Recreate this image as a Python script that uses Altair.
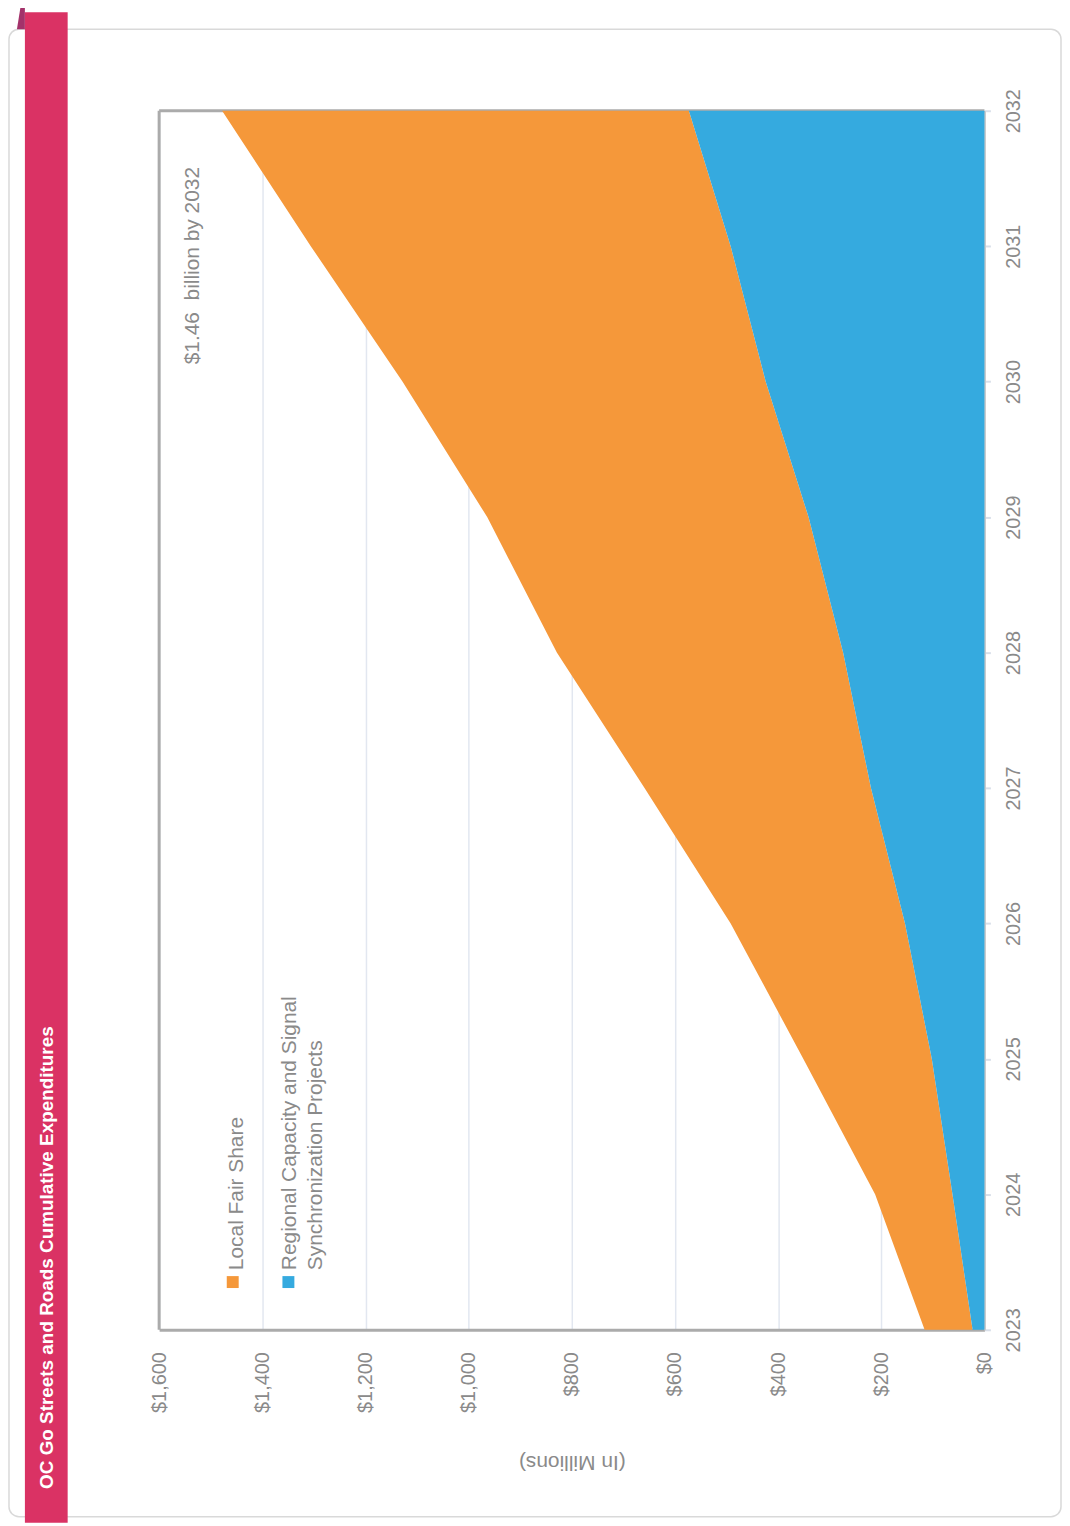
import altair as alt
import pandas as pd

# ---------------- data ----------------
years = [2023, 2024, 2025, 2026, 2027, 2028, 2029, 2030, 2031, 2032]
regional_capacity = [23, 62, 102, 154, 220, 274, 341, 424, 492, 573]
local_fair_share = [93, 150, 249, 338, 439, 555, 623, 704, 814, 905]

series_names = ["Local Fair Share", "Regional Capacity and Signal Synchronization Projects"]
series_colors = ["#F5983A", "#35AADF"]
stack_rank = [1, 0]  # Regional sits next to $0

value_ticks = [0, 200, 400, 600, 800, 1000, 1200, 1400, 1600]

chart_title = "OC Go Streets and Roads Cumulative Expenditures"
value_axis_title = "(In Millions)"
annotation_text = "$1.46\u00a0 billion by 2032"
legend_labels = ["Local Fair Share", "Regional Capacity and Signal\nSynchronization Projects"]

FONT = "Liberation Sans"
GRAY_TEXT = "#8a8a8a"

W, H = 830, 1226

rows = []
for name, rank, vals in zip(series_names, stack_rank, [local_fair_share, regional_capacity]):
    for yr, v in zip(years, vals):
        rows.append({"year": yr, "value": v, "series": name, "rank": rank})
df = pd.DataFrame(rows)

one = pd.DataFrame({"k": [0]})

# ---------------- decorations ----------------
card = alt.Chart(one).mark_rect(fill=None, stroke="#d9d9d9", strokeWidth=1.5, cornerRadius=10).encode(
    x=alt.value(-151), x2=alt.value(907), y=alt.value(-82), y2=alt.value(1414)
)
banner = alt.Chart(one).mark_rect(color="#DA3264").encode(
    x=alt.value(-135), x2=alt.value(-92), y=alt.value(-99), y2=alt.value(1420)
)
fold = alt.Chart(one).mark_point(
    shape="M -0.32 1 L 0.32 1 L 0.32 -1 L 0 -1 Z", filled=True, opacity=1, color="#A3326A", size=625
).encode(x=alt.value(-139), y=alt.value(-94.5))

title_df = pd.DataFrame({"t": [chart_title]})
title = alt.Chart(title_df).mark_text(
    angle=270, align="left", baseline="top", font=FONT, fontSize=19, fontWeight="bold", color="white"
).encode(x=alt.value(-121.5), y=alt.value(1386), text="t:N")

left_border = alt.Chart(one).mark_rule(color="#ababab", strokeWidth=3).encode(
    x=alt.value(0), y=alt.value(0), y2=alt.value(H)
)
top_border = alt.Chart(one).mark_rule(color="#ababab", strokeWidth=3).encode(
    x=alt.value(0), x2=alt.value(W), y=alt.value(0)
)

# ---------------- stacked areas ----------------
area = alt.Chart(df).mark_area(orient="horizontal", opacity=1).encode(
    y=alt.Y(
        "year:Q",
        scale=alt.Scale(domain=[years[0], years[-1]], nice=False, zero=False),
        axis=alt.Axis(
            orient="right", values=years, format="d", labelAngle=270, labelAlign="center",
            labelBaseline="top", labelPadding=13, tickSize=6, tickWidth=2, tickColor="#d9dfe9",
            domainColor="#c9c9c9", domainWidth=2, grid=False, labelFont=FONT, labelFontSize=20,
            labelColor=GRAY_TEXT, labelFlush=False, labelOverlap=False, title=None,
        ),
    ),
    x=alt.X(
        "value:Q",
        stack="zero",
        scale=alt.Scale(domain=[value_ticks[0], value_ticks[-1]], reverse=True, nice=False),
        axis=alt.Axis(
            orient="bottom", values=value_ticks, labelExpr="'$' + format(datum.value, ',')",
            labelAngle=270, labelAlign="right", labelBaseline="middle", labelPadding=22,
            ticks=False, tickSize=0, domainColor="#ababab", domainWidth=3,
            grid=True, gridColor="#e2e7f0", gridWidth=1.5,
            labelFont=FONT, labelFontSize=20, labelColor=GRAY_TEXT, labelFlush=False, labelOverlap=False,
            title=value_axis_title, titleAngle=180, titleAlign="center", titleBaseline="middle",
            titleX=W / 2, titleY=132, titleFont=FONT, titleFontSize=21, titleFontWeight="normal",
            titleColor=GRAY_TEXT,
        ),
    ),
    color=alt.Color("series:N", scale=alt.Scale(domain=series_names, range=series_colors), legend=None),
    order=alt.Order("rank:Q"),
)

# ---------------- legend (rotated, drawn by hand) ----------------
legend_layers = []
legend_pos = [(74, 67.5), (130, 121)]
for name, color, label, (sx, tx) in zip(series_names, series_colors, legend_labels, legend_pos):
    ldf = pd.DataFrame({"series": [name], "label": [label]})
    sq = alt.Chart(ldf).mark_point(shape="square", filled=True, opacity=1, size=144, color=color).encode(
        x=alt.value(sx), y=alt.value(1178)
    )
    tx_mark = alt.Chart(ldf).mark_text(
        angle=270, align="left", baseline="top", font=FONT, fontSize=21, color=GRAY_TEXT,
        lineBreak="\n", lineHeight=26,
    ).encode(x=alt.value(tx), y=alt.value(1166), text="label:N")
    legend_layers += [sq, tx_mark]

ann_df = pd.DataFrame({"t": [annotation_text]})
annotation = alt.Chart(ann_df).mark_text(
    angle=270, align="left", baseline="top", font=FONT, fontSize=21, color=GRAY_TEXT
).encode(x=alt.value(23.5), y=alt.value(255), text="t:N")

chart = alt.layer(
    card, banner, fold, title, left_border, top_border, area, *legend_layers, annotation
).properties(
    width=W,
    height=H,
    padding={"left": 152, "top": 99, "right": 78, "bottom": 193},
    autosize=alt.AutoSizeParams(type="none"),
    background="white",
).configure_view(stroke=None)

chart.save("out.html", embed_options={"renderer": "svg", "actions": False})
